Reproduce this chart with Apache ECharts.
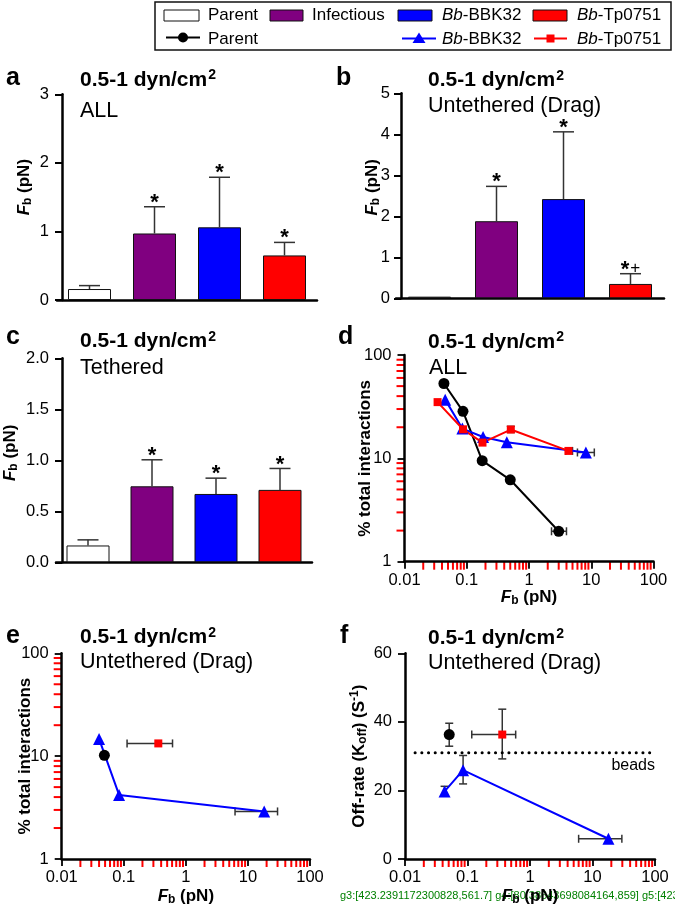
<!DOCTYPE html>
<html><head><meta charset="utf-8">
<script src="https://cdn.jsdelivr.net/npm/echarts@6/dist/echarts.min.js"></script>
<style>html,body{margin:0;padding:0;background:#fff}#c{width:675px;height:908px}</style>
</head><body><div id="c"></div>
<script>
// ---------- DATA ----------
const barCategories = ['Parent', 'Infectious', 'Bb-BBK32', 'Bb-Tp0751'];
const barColors = ['#ffffff', '#800080', '#0000ff', '#ff0000'];
const allMean = [0.16, 0.97, 1.06, 0.65];
const allErrTop = [0.21, 1.36, 1.79, 0.84];
const allMarks = ['', '*', '*', '*'];
const dragMean = [0.04, 1.88, 2.42, 0.35];
const dragErrTop = [null, 2.73, 4.06, 0.60];
const dragMarks = ['', '*', '*', '*+'];
const tethMean = [0.165, 0.745, 0.67, 0.71];
const tethErrTop = [0.22, 1.005, 0.825, 0.92];
const tethMarks = ['', '*', '*', '*'];
const dParentF = [0.043, 0.087, 0.177, 0.50, 3.0];
const dParentPct = [53, 28.5, 9.5, 6.2, 1.97];
const dBbkF = [0.045, 0.085, 0.183, 0.44, 8.2];
const dBbkPct = [37, 19.4, 16.1, 14.3, 11.4];
const dTpF = [0.034, 0.087, 0.179, 0.51, 4.3];
const dTpPct = [35, 19.1, 14.2, 19.0, 11.8];
const dXErr = [[3.0, 1.97, 2.3, 4.0], [8.2, 11.4, 6.0, 11.2], [4.3, 11.8, 3.9, 5.0]];
const dYErr = [[0.51, 19.0, 17.8, 20.4]];
const eParentF = [0.0487];
const eParentPct = [10.2];
const eBbkF = [0.040, 0.084, 18.3];
const eBbkPct = [14.7, 4.2, 2.9];
const eTpF = [0.36];
const eTpPct = [13.3];
const eXErr = [[18.3, 2.9, 6.2, 30], [0.36, 13.3, 0.113, 0.61]];
const fParentF = [0.051];
const fParentK = [36.3];
const fBbkF = [0.043, 0.085, 18.0];
const fBbkK = [19.7, 25.9, 5.9];
const fTpF = [0.36];
const fTpK = [36.3];
const fXErr = [[0.36, 36.3, 0.117, 0.59], [18.0, 5.9, 6.0, 29.5]];
const fYErr = [[0.051, 36.3, 32.9, 39.6], [0.36, 36.3, 29.2, 43.7], [0.043, 19.7, 18.3, 21.2], [0.085, 25.9, 21.9, 30.2]];
const beadsLevel = 31.0;
const beadsStartF = 0.0145;
const logXRange = [0.01, 100];
const pctRange = [1, 100];

// ---------- STYLE ----------
const FF = 'Liberation Sans, Arial, Helvetica, sans-serif';
const BLACK = '#000';
const ERR = '#333';
function zip(xs, ys) { return xs.map((x, i) => [x, ys[i]]); }
function minorVals(lo, hi) {
  const out = [];
  for (let e = Math.round(Math.log10(lo)); e < Math.round(Math.log10(hi)); e++)
    for (let k = 2; k <= 9; k++) out.push(+(k * Math.pow(10, e)).toPrecision(3));
  return out;
}
const nameRich = {
  i: { fontFamily: FF, fontSize: 17, fontWeight: 'bold', fontStyle: 'italic', color: BLACK },
  s: { fontFamily: FF, fontSize: 12, fontWeight: 'bold', color: BLACK, padding: [7, 0, 0, 0] },
  p: { fontFamily: FF, fontSize: 12, fontWeight: 'bold', color: BLACK, padding: [0, 0, 8, 0] },
  n: { fontFamily: FF, fontSize: 17, fontWeight: 'bold', color: BLACK }
};
const FbName = '{i|F}{s|b}{n| (pN)}';
const grids = [
  { left: 57, top: 94.3, width: 260, height: 205.7 },
  { left: 396, top: 93.3, width: 268, height: 205 },
  { left: 56, top: 358.3, width: 256, height: 204 },
  { left: 404.5, top: 355, width: 249, height: 206.7 },
  { left: 61.7, top: 653.3, width: 248.3, height: 205.7 },
  { left: 405, top: 653.3, width: 250, height: 205.7 }
];
const axisLineS = { show: true, onZero: false, lineStyle: { color: BLACK, width: 2.5 } };
const tickLabel = { color: BLACK, fontFamily: FF, fontSize: 16.5 };
function catX(gi) {
  return { type: 'category', gridIndex: gi, data: barCategories, boundaryGap: true,
    axisLine: { show: true, lineStyle: { color: BLACK, width: 2.5 } },
    axisTick: { show: false }, axisLabel: { show: false }, splitLine: { show: false } };
}
function barY(gi, max, interval, offset, fmt, gap, pad, margin) {
  return { type: 'value', gridIndex: gi, min: 0, max, interval, offset,
    axisLine: axisLineS, axisTick: { show: true, length: 7, lineStyle: { color: BLACK, width: 2 } },
    axisLabel: Object.assign({ margin: margin || 13, formatter: fmt }, tickLabel), splitLine: { show: false },
    name: FbName, nameLocation: 'middle', nameGap: gap, nameRotate: 90, nameMoveOverlap: false,
    nameTextStyle: { rich: nameRich, padding: [0, 0, 0, pad] } };
}
function logX(gi, gap) {
  return { type: 'log', logBase: 10, gridIndex: gi, min: logXRange[0], max: logXRange[1], splitNumber: 4,
    axisLine: axisLineS, axisTick: { show: true, length: 7, lineStyle: { color: BLACK, width: 1.8 } },
    axisLabel: Object.assign({ margin: 10, formatter: v => String(+(+v).toPrecision(6)) }, tickLabel),
    splitLine: { show: false }, position: 'bottom',
    name: FbName, nameLocation: 'middle', nameGap: gap, nameMoveOverlap: false, nameTextStyle: { rich: nameRich } };
}
function logY(gi, gap) {
  return { type: 'log', logBase: 10, gridIndex: gi, min: pctRange[0], max: pctRange[1], splitNumber: 2,
    axisLine: axisLineS, axisTick: { show: true, length: 7, lineStyle: { color: BLACK, width: 1.8 } },
    axisLabel: Object.assign({ margin: 13, formatter: v => String(+(+v).toPrecision(6)) }, tickLabel),
    splitLine: { show: false }, position: 'left',
    name: '% total interactions', nameLocation: 'middle', nameGap: gap, nameRotate: 90, nameMoveOverlap: false,
    nameTextStyle: { fontFamily: FF, fontSize: 17, fontWeight: 'bold', color: BLACK } };
}
function barSeries(gi, means) {
  return { type: 'bar', xAxisIndex: gi, yAxisIndex: gi, barWidth: 43, z: 2, silent: true,
    data: means.map((m, i) => ({ value: m, itemStyle: { color: barColors[i], borderColor: '#111', borderWidth: 1 } })) };
}
const markRich = {
  a: { fontFamily: FF, fontSize: 22, fontWeight: 'bold', fill: BLACK },
  b: { fontFamily: FF, fontSize: 17, fontWeight: 'normal', fill: BLACK, padding: [0, 0, 2, 1] }
};
function barErrSeries(gi, means, tops, marks) {
  return { type: 'custom', xAxisIndex: gi, yAxisIndex: gi, z: 5, silent: true, clip: false,
    data: means.map((m, i) => [i, m, tops[i] == null ? m : tops[i]]),
    renderItem(params, api) {
      const i = params.dataIndex;
      const p0 = api.coord([api.value(0), api.value(1)]);
      const p1 = api.coord([api.value(0), api.value(2)]);
      const ch = [];
      if (tops[i] != null) {
        ch.push({ type: 'line', shape: { x1: p0[0], y1: p0[1], x2: p1[0], y2: p1[1] }, style: { stroke: ERR, lineWidth: 1.5 } });
        ch.push({ type: 'line', shape: { x1: p1[0] - 10.5, y1: p1[1], x2: p1[0] + 10.5, y2: p1[1] }, style: { stroke: ERR, lineWidth: 1.5 } });
      }
      if (marks[i]) {
        const m = marks[i];
        const txt = '{a|*}' + (m.length > 1 ? '{b|' + m.slice(1) + '}' : '');
        ch.push({ type: 'text', style: { text: txt, rich: markRich, x: p1[0], y: p1[1] - 4, align: 'center', verticalAlign: 'middle' } });
      }
      return { type: 'group', children: ch };
    } };
}
function errSeries(xi, yi, xErr, yErr) {
  const data = [];
  xErr.forEach(r => data.push([r[0], r[1], r[2], r[3], 0]));
  yErr.forEach(r => data.push([r[0], r[1], r[2], r[3], 1]));
  const st = { stroke: ERR, lineWidth: 1.5 };
  const L = (x1, y1, x2, y2) => ({ type: 'line', shape: { x1, y1, x2, y2 }, style: st });
  return { type: 'custom', xAxisIndex: xi, yAxisIndex: yi, z: 1, silent: true, clip: false, data,
    encode: { x: 0, y: 1 },
    renderItem(params, api) {
      const x = api.value(0), y = api.value(1), lo = api.value(2), hi = api.value(3), dir = api.value(4);
      const c = 4;
      if (dir === 0) {
        const a = api.coord([lo, y]), b = api.coord([hi, y]);
        return { type: 'group', children: [L(a[0], a[1], b[0], b[1]), L(a[0], a[1] - c, a[0], a[1] + c), L(b[0], b[1] - c, b[0], b[1] + c)] };
      }
      const a = api.coord([x, lo]), b = api.coord([x, hi]);
      return { type: 'group', children: [L(a[0], a[1], b[0], b[1]), L(a[0] - c, a[1], a[0] + c, a[1]), L(b[0] - c, b[1], b[0] + c, b[1])] };
    } };
}
function lineSeries(xi, yi, xs, ys, color, symbol, size, showLine) {
  return { type: 'line', xAxisIndex: xi, yAxisIndex: yi, data: zip(xs, ys), symbol, symbolSize: size,
    showSymbol: true, z: 3, silent: true,
    lineStyle: { color, width: showLine === false ? 0 : 2 }, itemStyle: { color, borderWidth: 0 } };
}
const titleRich = {
  t: { fontFamily: FF, fontSize: 21, fontWeight: 'bold', fill: BLACK },
  p: { fontFamily: FF, fontSize: 14, fontWeight: 'bold', fill: BLACK, padding: [0, 0, 9, 1] }
};
function T(x, y, text, size, weight, extra) {
  return { type: 'text', x, y, silent: true, style: Object.assign({ text, fontFamily: FF, fontSize: size, fontWeight: weight || 'normal',
    fill: BLACK, verticalAlign: 'middle', align: 'left' }, extra || {}) };
}
function title(x, y) {
  return { type: 'text', x, y, silent: true, style: { text: '{t|0.5-1 dyn/cm}{p|2}', rich: titleRich, verticalAlign: 'middle', align: 'left' } };
}
const legRich = {
  i: { fontFamily: FF, fontSize: 17, fontStyle: 'italic', fill: BLACK },
  n: { fontFamily: FF, fontSize: 17, fill: BLACK }
};
function LT(x, y, text) {
  return { type: 'text', x, y, silent: true, style: { text, rich: legRich, verticalAlign: 'middle', align: 'left' } };
}
function buildGraphics() {
  return [
    { type: 'rect', shape: { x: 155, y: 2, width: 516, height: 48 }, style: { fill: '#fff', stroke: '#111', lineWidth: 1.5 }, z: 0 },
    { type: 'rect', shape: { x: 164, y: 10, width: 35, height: 11 }, style: { fill: barColors[0], stroke: '#111', lineWidth: 1 } },
    LT(208, 15, '{n|Parent}'),
    { type: 'rect', shape: { x: 270, y: 10, width: 33, height: 11 }, style: { fill: barColors[1], stroke: '#111', lineWidth: 1 } },
    LT(312, 15, '{n|Infectious}'),
    { type: 'rect', shape: { x: 398, y: 10, width: 34, height: 11 }, style: { fill: barColors[2], stroke: '#111', lineWidth: 1 } },
    LT(442, 15, '{i|Bb}{n|-BBK32}'),
    { type: 'rect', shape: { x: 533, y: 10, width: 34, height: 11 }, style: { fill: barColors[3], stroke: '#111', lineWidth: 1 } },
    LT(577, 15, '{i|Bb}{n|-Tp0751}'),
    { type: 'line', shape: { x1: 166, y1: 37.5, x2: 200, y2: 37.5 }, style: { stroke: BLACK, lineWidth: 2 } },
    { type: 'circle', shape: { cx: 183, cy: 37.5, r: 5 }, style: { fill: BLACK } },
    LT(208, 39, '{n|Parent}'),
    { type: 'line', shape: { x1: 402, y1: 38.5, x2: 436, y2: 38.5 }, style: { stroke: '#0000ff', lineWidth: 2 } },
    { type: 'polygon', shape: { points: [[419, 32.5], [425.5, 43], [412.5, 43]] }, style: { fill: '#0000ff' } },
    LT(442, 39, '{i|Bb}{n|-BBK32}'),
    { type: 'line', shape: { x1: 534, y1: 38.5, x2: 567, y2: 38.5 }, style: { stroke: '#ff0000', lineWidth: 2 } },
    { type: 'rect', shape: { x: 546.5, y: 34.5, width: 8, height: 8 }, style: { fill: '#ff0000' } },
    LT(577, 39, '{i|Bb}{n|-Tp0751}'),
    T(6, 78, 'a', 25, 'bold'), T(336, 78, 'b', 25, 'bold'),
    T(6, 337, 'c', 25, 'bold'), T(338, 337, 'd', 25, 'bold'),
    T(6, 636, 'e', 25, 'bold'), T(340, 636, 'f', 25, 'bold'),
    title(80, 80), title(428, 80.5), title(80, 341.5), title(428, 342), title(80, 637.5), title(428, 638.5),
    T(80, 111, 'ALL', 21.5), T(428, 106.5, 'Untethered (Drag)', 21.5),
    T(80, 368, 'Tethered', 21.5), T(429, 368, 'ALL', 21.5),
    T(80, 662.5, 'Untethered (Drag)', 21.5), T(428, 663.5, 'Untethered (Drag)', 21.5),
    T(655, 766, 'beads', 16, 'normal', { align: 'right' })
  ];
}
function buildOption(extraGraphics) {
  return {
    animation: false,
    backgroundColor: '#fff',
    grid: grids,
    xAxis: [catX(0), catX(1), catX(2), logX(3, 26), logX(4, 28), logX(5, 28)],
    yAxis: [
      barY(0, 3, 1, -5, v => String(v), 28, 20),
      barY(1, 5, 1, -5, v => String(v), 19, 17, 11),
      barY(2, 2, 0.5, -6, v => v.toFixed(1), 42, 15),
      logY(3, 31),
      logY(4, 28),
      { type: 'value', gridIndex: 5, min: 0, max: 60, interval: 20,
        axisLine: axisLineS, axisTick: { show: true, length: 7, lineStyle: { color: BLACK, width: 1.8 } },
        axisLabel: Object.assign({ margin: 13 }, tickLabel), splitLine: { show: false },
        name: '{n|Off-rate (K}{s|off}{n|) (S}{p|-1}{n|)}', nameLocation: 'middle', nameGap: 36, nameRotate: 90, nameMoveOverlap: false,
        nameTextStyle: { rich: nameRich } }
    ],
    graphic: buildGraphics().concat(extraGraphics),
    series: [
      barSeries(0, allMean), barErrSeries(0, allMean, allErrTop, allMarks),
      barSeries(1, dragMean), barErrSeries(1, dragMean, dragErrTop, dragMarks),
      barSeries(2, tethMean), barErrSeries(2, tethMean, tethErrTop, tethMarks),
      errSeries(3, 3, dXErr, dYErr),
      lineSeries(3, 3, dParentF, dParentPct, '#000000', 'circle', 11),
      lineSeries(3, 3, dBbkF, dBbkPct, '#0000ff', 'triangle', 12),
      lineSeries(3, 3, dTpF, dTpPct, '#ff0000', 'rect', 8),
      errSeries(4, 4, eXErr, []),
      lineSeries(4, 4, eBbkF, eBbkPct, '#0000ff', 'triangle', 12),
      lineSeries(4, 4, eParentF, eParentPct, '#000000', 'circle', 11, false),
      lineSeries(4, 4, eTpF, eTpPct, '#ff0000', 'rect', 8, false),
      { type: 'line', xAxisIndex: 5, yAxisIndex: 5, data: [[beadsStartF, beadsLevel], [100, beadsLevel]], symbol: 'none', silent: true, z: 1,
        lineStyle: { color: BLACK, width: 3, type: [0.1, 6.6], cap: 'round' } },
      errSeries(5, 5, fXErr, fYErr),
      lineSeries(5, 5, fBbkF, fBbkK, '#0000ff', 'triangle', 12),
      lineSeries(5, 5, fParentF, fParentK, '#000000', 'circle', 11, false),
      lineSeries(5, 5, fTpF, fTpK, '#ff0000', 'rect', 8, false)
    ]
  };
}
const chart = echarts.init(document.getElementById('c'), null, { renderer: 'canvas' });
chart.setOption(buildOption([]));

// DIAGNOSTIC: minor ticks in red, plus info text
let info = '';
const minorTicks = [];
try {
  [[3, pctRange[0], true], [4, pctRange[0], true], [5, 0, false]].forEach(function (cfg) {
    const gi = cfg[0], yMin = cfg[1], logYAxis = cfg[2];
    const p0 = chart.convertToPixel({ gridIndex: gi }, [0.02, yMin === 0 ? 0 : 1]);
    info += 'g' + gi + ':' + JSON.stringify(p0) + ' ';
    minorVals(logXRange[0], logXRange[1]).forEach(function (v) {
      const p = chart.convertToPixel({ gridIndex: gi }, [v, yMin]);
      if (p) minorTicks.push({ type: 'line', shape: { x1: p[0], y1: p[1], x2: p[0], y2: p[1] + 8 }, style: { stroke: 'red', lineWidth: 2 } });
    });
    if (logYAxis) minorVals(pctRange[0], pctRange[1]).forEach(function (v) {
      const p = chart.convertToPixel({ gridIndex: gi }, [logXRange[0], v]);
      if (p) minorTicks.push({ type: 'line', shape: { x1: p[0], y1: p[1], x2: p[0] - 8, y2: p[1] }, style: { stroke: 'red', lineWidth: 2 } });
    });
  });
} catch (e) { info += 'ERR ' + e.message; }
info += ' n=' + minorTicks.length;
minorTicks.push({ type: 'text', x: 340, y: 890, style: { text: info, fontSize: 11, fill: 'green' } });
chart.setOption(buildOption(minorTicks), true);
</script></body></html>
